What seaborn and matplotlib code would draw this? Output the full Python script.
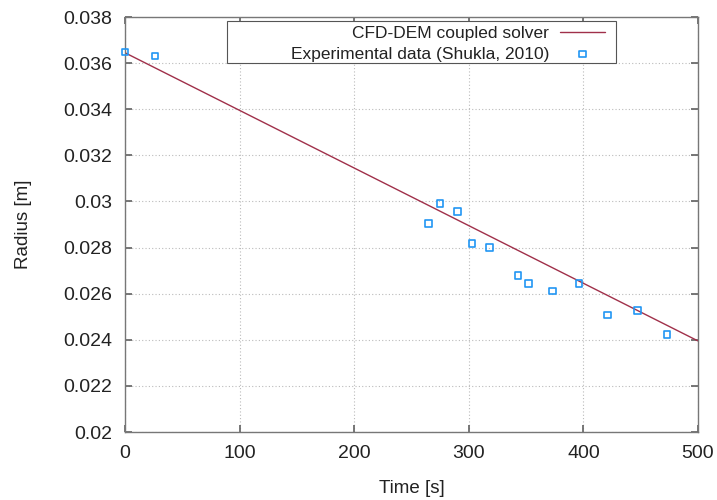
import matplotlib

matplotlib.use("Agg")
import matplotlib.pyplot as plt
from matplotlib.patches import Rectangle
import seaborn as sns
import pandas as pd

# Solver result (straight line, read at both ends)
solver_time = [0, 500]
solver_radius = [0.03645, 0.02395]

# Experimental points (Shukla, 2010)
exp_time = [0, 26, 265, 275, 290, 303, 318, 343, 352, 373, 396, 421, 447, 473]
exp_radius = [
    0.03648, 0.03631, 0.02904, 0.02990, 0.02957, 0.02817, 0.02801,
    0.02678, 0.02645, 0.02612, 0.02645, 0.02508, 0.02527, 0.02422,
]

x_ticks = [0, 100, 200, 300, 400, 500]
y_ticks = [0.02, 0.022, 0.024, 0.026, 0.028, 0.03, 0.032, 0.034, 0.036, 0.038]
y_labels = ["0.02", "0.022", "0.024", "0.026", "0.028", "0.03",
            "0.032", "0.034", "0.036", "0.038"]

sns.set_theme(style="white")
plt.rcParams["font.family"] = ["Liberation Sans", "DejaVu Sans"]

solver_df = pd.DataFrame({"time": solver_time, "radius": solver_radius})
exp_df = pd.DataFrame({"time": exp_time, "radius": exp_radius})

fig = plt.figure(figsize=(7.17, 5.0), dpi=100)
ax = fig.add_axes([0.1743, 0.136, 0.7992, 0.830])

sns.lineplot(
    data=solver_df, x="time", y="radius", ax=ax,
    color="#a0304a", linewidth=1.0, label="CFD-DEM coupled solver",
)
sns.scatterplot(
    data=exp_df, x="time", y="radius", ax=ax,
    marker="s", s=22, facecolors="none", edgecolor="#2196f3", linewidth=1.2,
    label="Experimental data (Shukla, 2010)", zorder=3, clip_on=False,
)

ax.set_xlim(0, 500)
ax.set_ylim(0.02, 0.038)
ax.set_xticks(x_ticks)
ax.set_yticks(y_ticks)
ax.set_yticklabels(y_labels)
ax.tick_params(direction="in", length=5, color="#666666", labelsize=14,
               labelcolor="#222222", pad=9.5, top=True, right=True,
               bottom=True, left=True, labeltop=False, labelright=False)
ax.grid(True, color="#bbbbbb", linestyle=(0, (1, 2)), linewidth=0.8)
for spine in ax.spines.values():
    spine.set_color("#777777")
    spine.set_linewidth(1.0)

ax.set_xlabel("Time [s]", fontsize=13.5, color="#222222", labelpad=13)
ax.set_ylabel("Radius [m]", fontsize=13.5, color="#222222", labelpad=22)

# gnuplot-style key: wide box, text right-aligned, sample on the right
ax.add_patch(Rectangle((0.178, 0.889), 0.679, 0.101, transform=ax.transAxes,
                       facecolor="white", edgecolor="#555555", linewidth=0.8,
                       zorder=4))
leg = ax.legend(
    loc="upper right", bbox_to_anchor=(0.838, 0.979), markerfirst=False,
    fontsize=12.5, frameon=False, handlelength=2.6, handletextpad=0.63,
    borderpad=0.0, labelspacing=0.32, borderaxespad=0.0,
)
leg.set_zorder(5)
for txt in leg.get_texts():
    txt.set_ha("right")
    txt.set_color("#222222")
leg._legend_box.align = "right"

fig.savefig("out.png", dpi=100, facecolor="white")
